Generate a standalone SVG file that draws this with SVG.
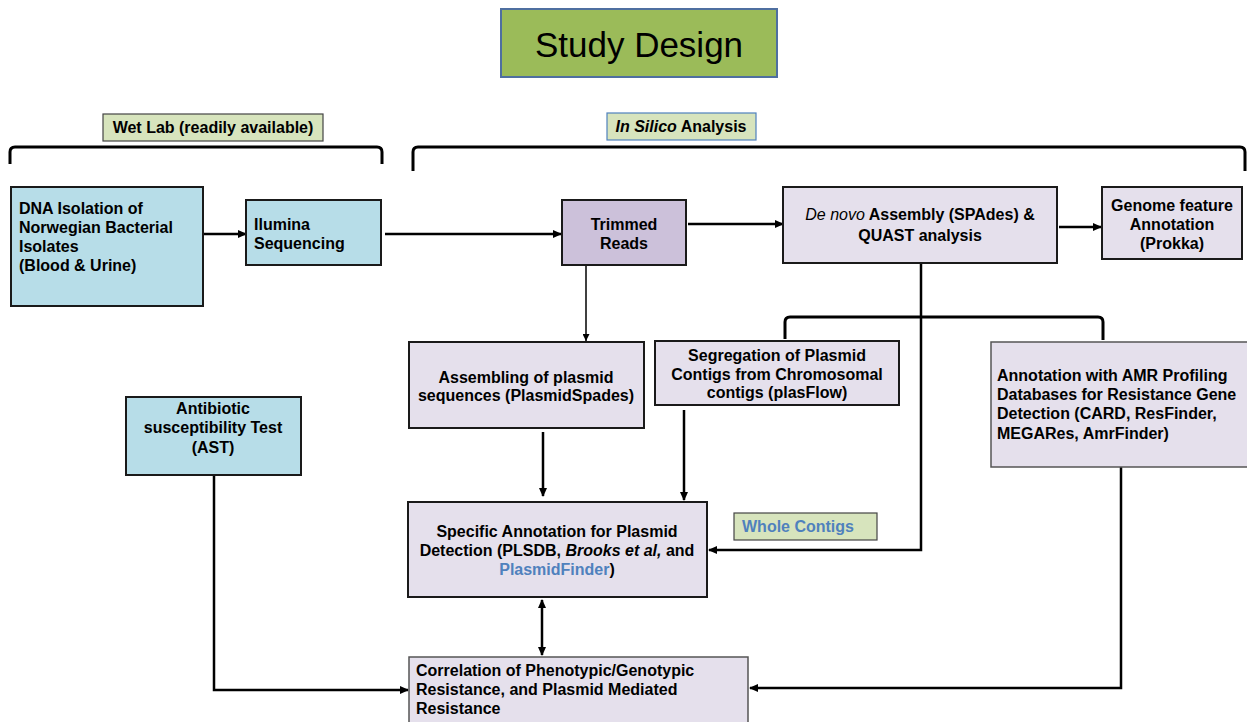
<svg xmlns="http://www.w3.org/2000/svg" width="1247" height="722" viewBox="0 0 1247 722">
<style>
text{font-family:"Liberation Sans",Arial,sans-serif;font-weight:bold;font-size:16px;fill:#000}
.c{text-anchor:middle}
.it{font-style:italic}
.blue{fill:#4F81BD}
.box{stroke:#1a1a1a;stroke-width:2}
.soft{stroke:#555;stroke-width:1.5}
.cyan{fill:#B7DDE8}
.lav{fill:#E5E0EC}
.pur{fill:#CCC1DA}
.lbl{fill:#D7E4BD}
.ln{fill:none;stroke:#000;stroke-width:2.5}
.thin{fill:none;stroke:#000;stroke-width:1.5}
.br{fill:none;stroke:#000;stroke-width:3}
</style>
<defs>
<marker id="ah" markerUnits="userSpaceOnUse" markerWidth="9" markerHeight="8" refX="8" refY="4" orient="auto-start-reverse">
<path d="M0,0 L9,4 L0,8 z" fill="#000"/>
</marker>
<marker id="ahs" markerUnits="userSpaceOnUse" markerWidth="7" markerHeight="7" refX="7" refY="3.5" orient="auto">
<path d="M0,0 L7,3.5 L0,7 z" fill="#000"/>
</marker>
</defs>

<g id="title">
<rect x="501" y="9" width="276" height="68" fill="#9BBB59" stroke="#4F6FA0" stroke-width="2"/>
<text x="639" y="57" class="c" style="font-weight:normal;font-size:35px">Study Design</text>
</g>

<g id="wetlab-label">
<rect x="103" y="114" width="220" height="27" class="lbl" stroke="#444" stroke-width="1.2"/>
<text x="213" y="133" class="c">Wet Lab (readily  available)</text>
</g>

<g id="insilico-label">
<rect x="607" y="113" width="149" height="27" class="lbl" stroke="#4F81BD" stroke-width="1.2"/>
<text x="681" y="132" class="c"><tspan class="it">In Silico</tspan> Analysis</text>
</g>

<g id="brackets">
<path class="br" d="M10,164 V152 Q10,147 15,147 H377 Q382,147 382,152 V164"/>
<path class="br" d="M413,171 V152 Q413,147 418,147 H1240 Q1245,147 1245,152 V171"/>
<path class="br" d="M785,339 V322 Q785,317 790,317 H1098 Q1103,317 1103,322 V340"/>
</g>

<g id="connectors">
<line class="ln" x1="203" y1="234" x2="246" y2="234" marker-end="url(#ah)"/>
<line class="ln" x1="385" y1="234" x2="561" y2="234" marker-end="url(#ah)"/>
<line class="ln" x1="688" y1="224" x2="783" y2="224" marker-end="url(#ah)"/>
<line class="ln" x1="1059" y1="227" x2="1101" y2="227" marker-end="url(#ah)"/>
<line class="thin" x1="586" y1="265" x2="586" y2="341" marker-end="url(#ahs)"/>
<line class="ln" x1="543" y1="432" x2="543" y2="496" marker-end="url(#ah)"/>
<line class="ln" x1="684" y1="410" x2="684" y2="500" marker-end="url(#ah)"/>
<path class="ln" d="M921,263 V550 H709" marker-end="url(#ah)"/>
<line class="ln" x1="542" y1="600" x2="542" y2="655" marker-start="url(#ah)" marker-end="url(#ah)"/>
<path class="ln" d="M214,475 V690 H408" marker-end="url(#ah)"/>
<path class="ln" d="M1121,467 V688 H750" marker-end="url(#ah)"/>
</g>

<g id="dna">
<rect x="11" y="187" width="192" height="119" class="box cyan"/>
<text x="19" y="214">DNA Isolation  of</text>
<text x="19" y="233">Norwegian Bacterial</text>
<text x="19" y="252">Isolates</text>
<text x="19" y="271">(Blood &amp; Urine)</text>
</g>

<g id="illumina">
<rect x="246" y="200" width="135" height="65" class="box cyan"/>
<text x="254" y="230">Ilumina</text>
<text x="254" y="249">Sequencing</text>
</g>

<g id="trimmed">
<rect x="562" y="200" width="124" height="65" class="box pur"/>
<text x="624" y="230" class="c">Trimmed</text>
<text x="624" y="249" class="c">Reads</text>
</g>

<g id="denovo">
<rect x="783" y="187" width="274" height="76" class="box lav"/>
<text x="920" y="220" class="c"><tspan class="it" style="font-weight:normal">De novo</tspan> Assembly (SPAdes) &amp;</text>
<text x="920" y="241" class="c">QUAST analysis</text>
</g>

<g id="prokka">
<rect x="1102" y="187" width="140" height="72" class="box lav"/>
<text x="1172" y="211" class="c">Genome feature</text>
<text x="1172" y="230" class="c">Annotation</text>
<text x="1172" y="249" class="c">(Prokka)</text>
</g>

<g id="plasmidspades">
<rect x="409" y="342" width="235" height="86" class="box lav"/>
<text x="526" y="383" class="c">Assembling of plasmid</text>
<text x="526" y="401" class="c">sequences (PlasmidSpades)</text>
</g>

<g id="plasflow">
<rect x="655" y="341" width="244" height="64" class="box lav"/>
<text x="777" y="361" class="c">Segregation of Plasmid</text>
<text x="777" y="380" class="c">Contigs from Chromosomal</text>
<text x="777" y="398" class="c">contigs (plasFlow)</text>
</g>

<g id="amr">
<rect x="991" y="342" width="258" height="125" class="soft lav"/>
<text x="997" y="381">Annotation with AMR Profiling</text>
<text x="997" y="400">Databases for Resistance Gene</text>
<text x="997" y="419">Detection (CARD, ResFinder,</text>
<text x="997" y="439">MEGARes, AmrFinder)</text>
</g>

<g id="ast">
<rect x="126" y="397" width="175" height="78" class="box cyan"/>
<text x="213" y="414" class="c">Antibiotic</text>
<text x="213" y="433" class="c">susceptibility  Test</text>
<text x="213" y="453" class="c">(AST)</text>
</g>

<g id="specific">
<rect x="408" y="502" width="299" height="95" class="box lav"/>
<text x="557" y="537" class="c">Specific Annotation for Plasmid</text>
<text x="557" y="556" class="c">Detection (PLSDB, <tspan class="it">Brooks et al,</tspan> and</text>
<text x="557" y="575" class="c"><tspan class="blue">PlasmidFinder</tspan>)</text>
</g>

<g id="whole-contigs">
<rect x="734" y="513" width="143" height="27" class="lbl" stroke="#444" stroke-width="1.2"/>
<text x="742" y="532" class="blue">Whole Contigs</text>
</g>

<g id="correlation">
<rect x="409" y="657" width="339" height="70" class="soft lav"/>
<text x="416" y="676">Correlation of Phenotypic/Genotypic</text>
<text x="416" y="695">Resistance, and Plasmid Mediated</text>
<text x="416" y="714">Resistance</text>
</g>
</svg>
